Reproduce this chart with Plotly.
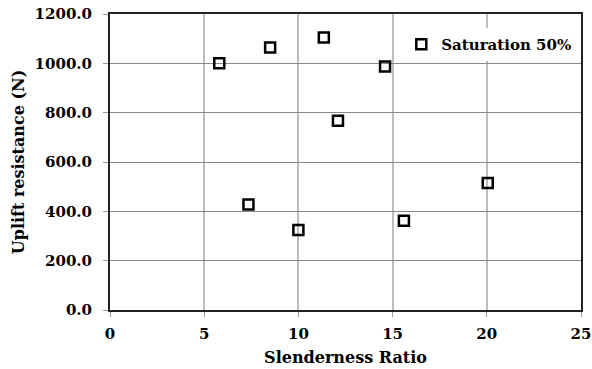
import plotly.graph_objects as go

slenderness = [5.8, 8.5, 11.35, 14.6, 12.1, 7.35, 10.0, 15.6, 20.05]
uplift = [1000, 1064, 1105, 987, 767, 428, 324, 362, 515]
x_ticks = [0, 5, 10, 15, 20, 25]
y_ticks = [0, 200, 400, 600, 800, 1000, 1200]

font_family = "DejaVu Serif"

fig = go.Figure()
fig.add_trace(go.Scatter(
    x=slenderness, y=uplift, mode="markers", name="Saturation 50%",
    marker=dict(symbol="square-open", size=10, color="black", line=dict(width=2.5, color="black")),
))

fig.update_layout(
    width=592, height=369,
    margin=dict(l=110, r=11, t=14, b=59),
    paper_bgcolor="white", plot_bgcolor="white",
    font=dict(family=font_family, color="black"),
    showlegend=True,
    legend=dict(x=0.99, xanchor="right", y=0.953, yanchor="top",
                bgcolor="white", borderwidth=0,
                font=dict(family=font_family, size=15, color="black", weight="bold"),
                itemwidth=30),
    xaxis=dict(
        range=[0, 25], tickvals=x_ticks, ticktext=[str(v) for v in x_ticks],
        showgrid=True, gridcolor="#bdbdbd", gridwidth=1.5,
        showline=True, linecolor="#222", linewidth=2, mirror=True,
        ticks="outside", ticklen=5, tickcolor="#999", tickwidth=1,
        tickfont=dict(family=font_family, size=15, weight="bold"),
        ticklabelstandoff=4, ticklabeloverflow="allow",
        title=dict(text="Slenderness Ratio", font=dict(family=font_family, size=16, weight="bold"), standoff=10),
        zeroline=False, automargin=False,
    ),
    yaxis=dict(
        range=[0, 1200], tickvals=y_ticks, ticktext=[f"{v:.1f}" for v in y_ticks],
        showgrid=True, gridcolor="#8a8a8a", gridwidth=1,
        showline=True, linecolor="#222", linewidth=2, mirror=True,
        ticks="outside", ticklen=5, tickcolor="#999", tickwidth=1,
        tickfont=dict(family=font_family, size=15, weight="bold"),
        ticklabelstandoff=8, ticklabeloverflow="allow",
        title=dict(text="Uplift resistance (N)", font=dict(family=font_family, size=16, weight="bold"), standoff=6),
        zeroline=False, automargin=False,
    ),
)

# remove the browser's default page margin so the 592x369 figure fills the window
fig.write_html(
    "out.html",
    config={"displayModeBar": False},
    post_script="document.body.style.margin='0';document.documentElement.style.overflow='hidden';",
)
